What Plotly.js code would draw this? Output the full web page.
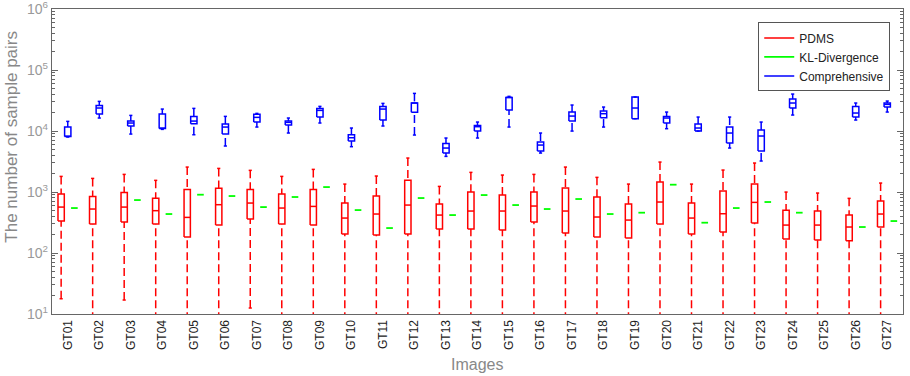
<!DOCTYPE html>
<html>
<head>
<meta charset="utf-8">
<script src="https://cdn.plot.ly/plotly-3.0.1.min.js"></script>
<style>html,body{margin:0;padding:0;background:#fff;}#chart{width:910px;height:376px;}</style>
</head>
<body>
<div id="chart"></div>
<script>
// Categories
const categories = ['GT01','GT02','GT03','GT04','GT05','GT06','GT07','GT08','GT09','GT10','GT11','GT12','GT13','GT14','GT15','GT16','GT17','GT18','GT19','GT20','GT21','GT22','GT23','GT24','GT25','GT26','GT27'];

// PDMS box statistics (log10 of number of sample pairs)
const pdmsUpperLog = [3.256,3.223,3.289,3.191,3.409,3.387,3.355,3.256,3.371,3.130,3.262,3.557,3.092,3.322,3.278,3.289,3.409,3.240,3.130,3.491,3.130,3.360,3.475,2.999,2.983,2.896,3.147];
const pdmsQ3Log    = [2.967,2.928,2.994,2.896,3.043,3.060,3.043,2.967,3.043,2.819,2.934,3.191,2.803,3.000,2.950,3.000,3.065,2.918,2.803,3.163,2.819,3.016,3.130,2.699,2.688,2.622,2.852];
const pdmsMedLog   = [2.753,2.721,2.753,2.694,2.584,2.792,2.819,2.737,2.764,2.573,2.639,2.786,2.622,2.688,2.688,2.770,2.688,2.590,2.540,2.836,2.573,2.644,2.830,2.458,2.458,2.426,2.639];
const pdmsQ1Log    = [2.524,2.475,2.508,2.475,2.262,2.458,2.557,2.475,2.458,2.311,2.295,2.311,2.393,2.393,2.377,2.508,2.327,2.262,2.245,2.475,2.311,2.344,2.491,2.229,2.213,2.202,2.426];
const pdmsLowerLog = [1.250,0.70,1.229,0.70,0.70,0.70,1.098,0.70,0.70,0.70,0.70,0.70,0.70,0.70,0.70,0.70,0.70,0.70,0.70,0.70,0.70,0.70,0.70,0.70,0.70,0.70,0.70];

// KL-Divergence values (log10)
const klLog = [2.737,null,2.868,2.639,2.956,2.934,2.753,2.918,3.081,2.704,2.409,2.901,2.622,2.950,2.786,2.721,2.885,2.639,2.661,3.120,2.497,2.737,2.836,2.661,null,2.426,2.524];

// Comprehensive box statistics (log10)
const compUpperLog = [4.158,4.486,4.256,4.360,4.371,4.240,4.289,4.213,4.404,4.049,4.453,4.617,3.885,4.147,4.568,3.967,4.426,4.393,4.557,4.311,4.229,4.229,4.147,4.606,4.847,4.459,4.491];
const compQ3Log    = [4.065,4.420,4.163,4.278,4.240,4.114,4.273,4.163,4.371,3.939,4.404,4.459,3.797,4.092,4.551,3.819,4.311,4.327,4.557,4.240,4.114,4.065,4.016,4.524,4.830,4.404,4.459];
const compMedLog   = [3.915,4.377,4.131,4.048,4.163,4.065,4.224,4.142,4.338,3.890,4.360,4.459,3.721,4.071,4.551,3.770,4.245,4.284,4.377,4.213,4.049,3.967,3.918,4.459,4.786,4.295,4.437];
const compQ1Log    = [3.912,4.278,4.082,4.043,4.120,3.950,4.147,4.098,4.229,3.836,4.180,4.306,3.639,3.999,4.344,3.672,4.163,4.218,4.202,4.131,3.999,3.803,3.672,4.377,4.754,4.229,4.393];
const compLowerLog = [3.901,4.213,3.950,4.027,3.939,3.754,4.065,3.967,4.131,3.743,4.082,3.934,3.584,3.885,4.065,3.639,3.999,4.065,4.202,4.038,3.999,3.721,3.508,4.262,4.688,4.180,4.311];

const yTickVals = [1e1,1e2,1e3,1e4,1e5,1e6];
const yTickText = ['10<sup>1</sup>','10<sup>2</sup>','10<sup>3</sup>','10<sup>4</sup>','10<sup>5</sup>','10<sup>6</sup>'];

const P = v => (v === null ? null : Math.pow(10, v));
const FONT = '"Liberation Sans", Arial, sans-serif';

function boxTraces(name, color, offset, upper, q3, med, q1, lower, showLegend) {
  const hw = 0.1, cap = 0.05;
  const bx = [], by = [], mx = [], my = [], wx = [], wy = [], cx = [], cy = [];
  categories.forEach((c, i) => {
    const p = i + 1 + offset;
    bx.push(p-hw, p+hw, p+hw, p-hw, p-hw, null);
    by.push(P(q1[i]), P(q1[i]), P(q3[i]), P(q3[i]), P(q1[i]), null);
    mx.push(p-hw, p+hw, null);
    my.push(P(med[i]), P(med[i]), null);
    if (upper[i] > q3[i]) { wx.push(p, p, null); wy.push(P(upper[i]), P(q3[i]), null); }
    if (lower[i] < q1[i]) { wx.push(p, p, null); wy.push(P(lower[i]), P(q1[i]), null); }
    cx.push(p-cap, p+cap, null); cy.push(P(upper[i]), P(upper[i]), null);
    cx.push(p-cap, p+cap, null); cy.push(P(lower[i]), P(lower[i]), null);
  });
  const base = {type:'scatter', mode:'lines', hoverinfo:'skip', legendgroup:name, name:name};
  return [
    Object.assign({}, base, {x:bx, y:by, line:{color:color, width:1.5}, showlegend:showLegend}),
    Object.assign({}, base, {x:mx, y:my, line:{color:color, width:1.5}, showlegend:false}),
    Object.assign({}, base, {x:wx, y:wy, line:{color:color, width:1.5, dash:'8px,4px'}, showlegend:false}),
    Object.assign({}, base, {x:cx, y:cy, line:{color:color, width:1.5}, showlegend:false})
  ];
}

const traces = [];
traces.push(...boxTraces('PDMS', '#ff0000', -0.21, pdmsUpperLog, pdmsQ3Log, pdmsMedLog, pdmsQ1Log, pdmsLowerLog, true));

// KL-Divergence short horizontal lines
const kx = [], ky = [];
categories.forEach((c, i) => {
  const p = i + 1 + 0.21;
  if (klLog[i] !== null) { kx.push(p-0.105, p+0.105, null); ky.push(P(klLog[i]), P(klLog[i]), null); }
});
traces.push({type:'scatter', mode:'lines', x:kx, y:ky, name:'KL-Divergence', line:{color:'#00ff00', width:1.8}, hoverinfo:'skip'});

traces.push(...boxTraces('Comprehensive', '#0000ff', 0, compUpperLog, compQ3Log, compMedLog, compQ1Log, compLowerLog, true));

// helper trace for minor-tick axis
const minorVals = [];
for (let e = 1; e < 6; e++) for (let m = 2; m <= 9; m++) minorVals.push(m * Math.pow(10, e));
traces.push({type:'scatter', mode:'markers', x:[1], y:[100], yaxis:'y2', marker:{opacity:0}, showlegend:false, hoverinfo:'skip'});

const layout = {
  width: 910, height: 376,
  margin: {l:52, r:7, t:9, b:62},
  paper_bgcolor:'#ffffff', plot_bgcolor:'#ffffff',
  font: {family: FONT, color:'#333'},
  showlegend: true,
  legend: {
    x: 0.985, y: 0.956, xanchor:'right', yanchor:'top',
    bgcolor:'#ffffff', bordercolor:'#555', borderwidth:1,
    font:{family:FONT, size:12, color:'#222'}, tracegroupgap:0
  },
  xaxis: {
    range:[0.5, 27.5], tickmode:'array', tickvals: categories.map((c,i)=>i+1), ticktext: categories,
    tickangle:-90, ticks:'', showline:true, mirror:true, linecolor:'#666', linewidth:1.2,
    showgrid:false, zeroline:false, tickfont:{family:FONT, size:12, color:'#222'}
  },
  yaxis: {
    type:'log', range:[1, 6.0005], tickmode:'array', tickvals:yTickVals, ticktext:yTickText,
    ticks:'inside', ticklen:6, tickcolor:'#666', tickwidth:1, showline:true, mirror:'ticks',
    linecolor:'#666', linewidth:1.2, showgrid:false, zeroline:false, ticklabeloverflow:'allow',
    tickfont:{family:FONT, size:14, color:'#999'}
  },
  yaxis2: {
    type:'log', range:[1, 6.0005], overlaying:'y', side:'left', tickmode:'array', tickvals:minorVals,
    ticks:'inside', ticklen:3, tickcolor:'#666', tickwidth:1, showticklabels:false, showline:false,
    mirror:'ticks', showgrid:false, zeroline:false
  },
  annotations: [
    {text:'The number of sample pairs', xref:'paper', yref:'paper', x:-0.048, y:0.582, textangle:-90,
     showarrow:false, xanchor:'center', yanchor:'middle', font:{family:FONT, size:17, color:'#888'}},
    {text:'Images', xref:'paper', yref:'paper', x:0.499, y:-0.166, showarrow:false,
     xanchor:'center', yanchor:'middle', font:{family:FONT, size:16, color:'#888'}}
  ]
};

Plotly.newPlot('chart', traces, layout, {displayModeBar:false, staticPlot:true});
</script>
</body>
</html>
